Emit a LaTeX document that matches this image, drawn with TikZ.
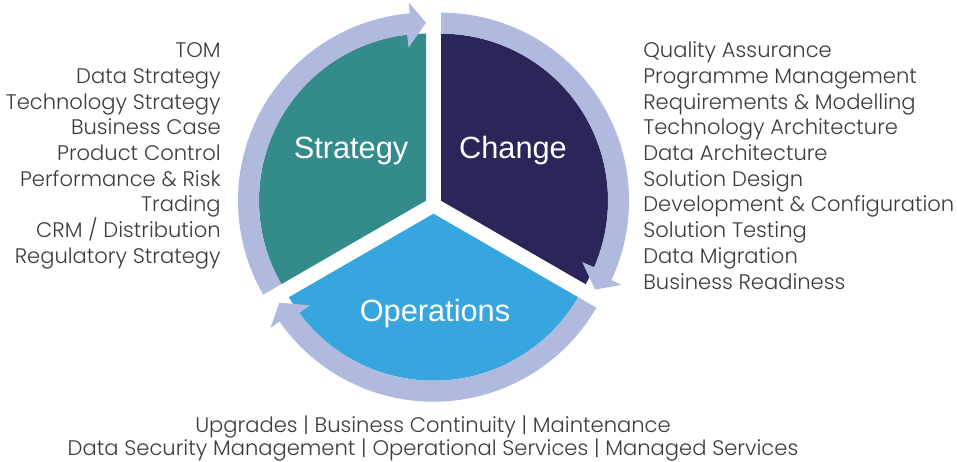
\documentclass[tikz,border=0pt]{standalone}
\usepackage{fontspec}
\setmainfont{Poppins}[UprightFont=* Light]
\newfontfamily\labelfont{Liberation Sans}
\usetikzlibrary{calc}
\definecolor{strategyteal}{HTML}{348B8B}
\definecolor{changenavy}{HTML}{2A2659}
\definecolor{operationsblue}{HTML}{38A6DE}
\definecolor{ringlilac}{HTML}{AFBADE}
\definecolor{listgrey}{HTML}{3C3C3C}
\tikzset{
  listtext/.style={text=listgrey, inner sep=0pt, font=\fontsize{12}{14}\selectfont},
  bigtext/.style={text=white, inner sep=0pt, font=\labelfont\fontsize{17.5}{20}\selectfont},
}
% sector with its ring arrow: [colour](centre)(end angle:start angle)
\def\cyclepiece[#1](#2)(#3:#4){
  \begin{scope}[shift={(#2)}]
    \fill[#1] (0,0) -- (#3:167) arc[start angle=#3, end angle=#4, radius=167] -- cycle;
    \fill[ringlilac] (#4:167) arc[start angle=#4, end angle={#3+6.5}, radius=167]
      -- ({#3+6.5}:154) -- (#3:178) -- ({#3+5}:199) -- ({#3+5}:188)
      arc[start angle={#3+5}, end angle=#4, radius=188] -- cycle;
  \end{scope}}

\begin{document}
\begin{tikzpicture}[x=0.02cm, y=0.02cm]
  %%%%% START %%%%%
  \useasboundingbox (0,0) rectangle (957,461);

  \cyclepiece[strategyteal](426,260.35)(90:210)
  \cyclepiece[changenavy](441,260.35)(-30:90)
  \cyclepiece[operationsblue](433.5,247.3)(210:330)

  \node[bigtext, anchor=base] (strategy) at (351,302.7) {Strategy};
  \node[bigtext, anchor=base] (change) at (513,303) {Change};
  \node[bigtext, anchor=base] (operations) at (435,139.3) {Operations};

  % strategy list
  \foreach \txt [count=\i from 0] in {TOM, Data Strategy, Technology Strategy, Business Case,
      Product Control, Performance \& Risk, Trading, CRM / Distribution, Regulatory Strategy}
    \node[listtext, anchor=base east] (strat\i) at (221,{403.3-25.7*\i}) {\txt};

  % change list
  \foreach \txt [count=\i from 0] in {Quality Assurance, Programme Management,
      Requirements \& Modelling, Technology Architecture, Data Architecture, Solution Design,
      Development \& Configuration, Solution Testing, Data Migration, Business Readiness}
    \node[listtext, anchor=base west] (chg\i) at (643,{403.3-25.7*\i}) {\txt};

  % operations list
  \node[listtext, anchor=base] (ops0) at (433,29) {Upgrades | Business Continuity | Maintenance};
  \node[listtext, anchor=base] (ops1) at (433,5.5) {Data Security Management | Operational Services | Managed Services};
  %%%%% END %%%%%
\end{tikzpicture}
\end{document}
